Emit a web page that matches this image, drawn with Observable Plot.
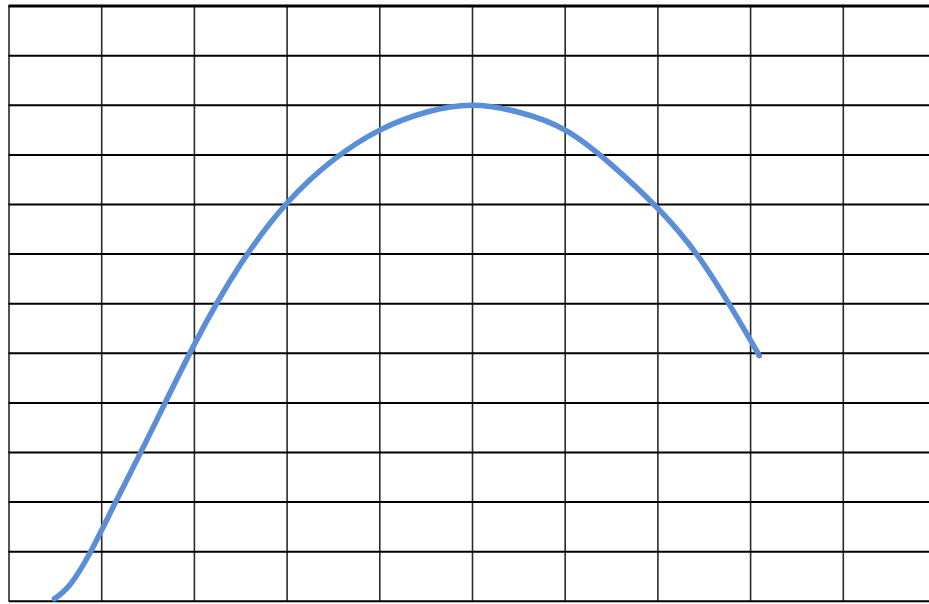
<!DOCTYPE html>
<html>
<head>
<meta charset="utf-8">
<script src="https://cdn.jsdelivr.net/npm/d3@7"></script>
<script src="https://cdn.jsdelivr.net/npm/@observablehq/plot@0.6"></script>
<style>
  html, body { margin: 0; padding: 0; background: #fff; }
  #chart svg { overflow: hidden; display: block; }
</style>
</head>
<body>
<div id="chart"></div>
<script>
// grid columns (x units) and rows (y units)
const columns = [0, 1, 2, 3, 4, 5, 6, 7, 8, 9, 10];
const rows = [0, 1, 2, 3, 4, 5, 6, 7, 8, 9, 10, 11, 12];

// curve (grid units)
const curveX = [0.49, 0.66, 0.88, 1.15, 1.5, 2.0, 2.5, 3.0, 3.5, 4.0, 4.5, 5.0, 5.5, 6.0, 6.5, 7.0, 7.5, 8.0, 8.09];
const curveY = [0.05, 0.34, 1.0, 2.0, 3.3, 5.18, 6.8, 8.03, 8.9, 9.5, 9.86, 10.0, 9.86, 9.5, 8.8, 7.92, 6.78, 5.26, 4.96];

const curve = curveX.map((x, i) => ({x, y: curveY[i]}));

const chart = Plot.plot({
  width: 929,
  height: 604,
  margin: 0,
  x: {domain: [0, 10], range: [8.5, 935.5], axis: null},
  y: {domain: [0, 12], range: [600.8, 5.6], axis: null},
  marks: [
    Plot.ruleX(columns.slice(0, 10), {x: d => d, y1: 0, y2: 12, stroke: "#2a2a2a", strokeWidth: 1.6}),
    Plot.ruleY(rows, {y: d => d, x1: 0, x2: 10, stroke: "#000", strokeWidth: d => d === 12 ? 3 : 2}),
    Plot.line(curve, {x: "x", y: "y", curve: "natural", stroke: "#5a8fd8", strokeWidth: 5.5, strokeLinecap: "round", strokeLinejoin: "round"})
  ]
});
document.getElementById("chart").appendChild(chart);
</script>
</body>
</html>
